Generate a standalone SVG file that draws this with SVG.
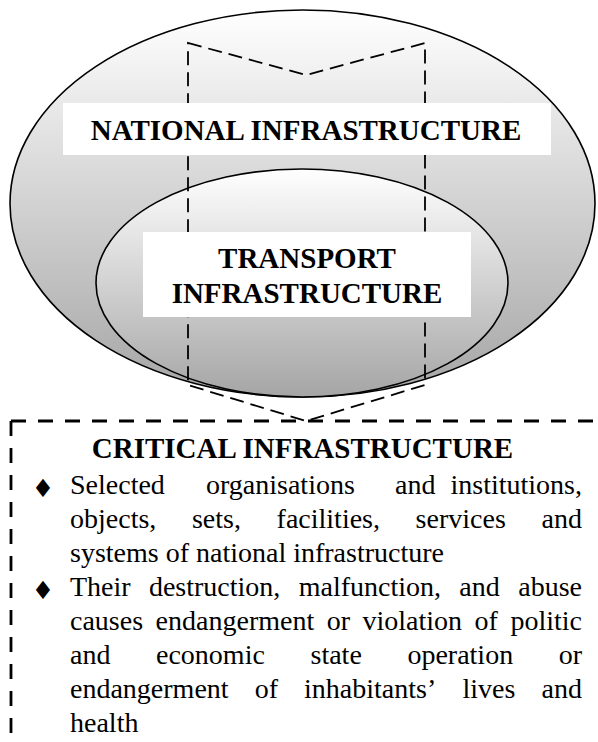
<svg xmlns="http://www.w3.org/2000/svg" width="598" height="742" viewBox="0 0 598 742">
  <style>
    .ell { stroke: #000; stroke-width: 1.6; }
    .dash-arrow { fill: none; stroke: #000; stroke-width: 1.8; stroke-dasharray: 14 7; }
    .dash-box { fill: none; stroke: #000; stroke-width: 2.8; stroke-dasharray: 15 12; }
    .label-bg { fill: #fff; }
    .head { font-family: "Liberation Serif", "Times New Roman", serif; font-weight: bold; font-size: 29px; fill: #000; text-anchor: middle; }
    .body { font-family: "Liberation Serif", "Times New Roman", serif; font-size: 28px; fill: #000; }
    .end { text-anchor: end; }
    .bullet { font-family: "DejaVu Sans", sans-serif; font-size: 25px; fill: #000; text-anchor: middle; }
  </style>
  <defs>
    <linearGradient id="shade" x1="0" y1="0" x2="0" y2="1">
      <stop offset="0" stop-color="#ffffff"/>
      <stop offset="1" stop-color="#a5a5a5"/>
    </linearGradient>
  </defs>

  <!-- national infrastructure (outer ellipse) -->
  <g id="national">
    <ellipse class="ell" cx="302.5" cy="203.5" rx="292.5" ry="193.5" fill="url(#shade)"/>
  </g>

  <!-- transport infrastructure (inner ellipse) -->
  <g id="transport">
    <ellipse class="ell" cx="302" cy="283" rx="206" ry="114" fill="url(#shade)"/>
  </g>

  <!-- dashed arrow linking the sets to critical infrastructure -->
  <g id="connectors">
    <path class="dash-arrow" d="M188,43 L306,75 L425,43 L425,385 L306,421 L188,385 Z"/>
  </g>

  <!-- labels on white backgrounds -->
  <g id="national-label">
    <rect class="label-bg" x="63" y="103" width="488" height="52"/>
    <text class="head" x="306" y="140">NATIONAL INFRASTRUCTURE</text>
  </g>
  <g id="transport-label">
    <rect class="label-bg" x="143" y="232" width="328" height="85"/>
    <text class="head" x="307" y="268">TRANSPORT</text>
    <text class="head" x="307" y="303">INFRASTRUCTURE</text>
  </g>

  <!-- critical infrastructure box -->
  <g id="critical">
    <path class="dash-box" d="M11,421 H606"/>
    <path class="dash-box" d="M11,421 V750"/>
    <text class="head" x="302.5" y="458">CRITICAL INFRASTRUCTURE</text>

    <text class="bullet" x="43" y="497">♦</text>
    <text class="body" y="494"><tspan x="70">Selected</tspan><tspan x="206">organisations</tspan><tspan x="395">and</tspan></text>
    <text class="body end" x="582" y="494">institutions,</text>
    <text class="body" y="528"><tspan x="70">objects,</tspan><tspan x="191.9">sets,</tspan><tspan x="276.6">facilities,</tspan><tspan x="415.6">services</tspan></text>
    <text class="body end" x="582" y="528">and</text>
    <text class="body" x="70" y="562">systems of national infrastructure</text>

    <text class="bullet" x="43" y="599">♦</text>
    <text class="body" y="596"><tspan x="70">Their</tspan><tspan x="148.9">destruction,</tspan><tspan x="298.7">malfunction,</tspan><tspan x="459.3">and</tspan></text>
    <text class="body end" x="582" y="596">abuse</text>
    <text class="body" y="630"><tspan x="70">causes</tspan><tspan x="155.6">endangerment</tspan><tspan x="326.7">or</tspan><tspan x="362.5">violation</tspan><tspan x="474.6">of</tspan></text>
    <text class="body end" x="582" y="630">politic</text>
    <text class="body" y="664"><tspan x="70">and</tspan><tspan x="156">economic</tspan><tspan x="310.5">state</tspan><tspan x="407.4">operation</tspan></text>
    <text class="body end" x="582" y="664">or</text>
    <text class="body" y="698"><tspan x="70">endangerment</tspan><tspan x="254.7">of</tspan><tspan x="304.1">inhabitants’</tspan><tspan x="462.4">lives</tspan></text>
    <text class="body end" x="582" y="698">and</text>
    <text class="body" x="70" y="732">health</text>
  </g>
</svg>
